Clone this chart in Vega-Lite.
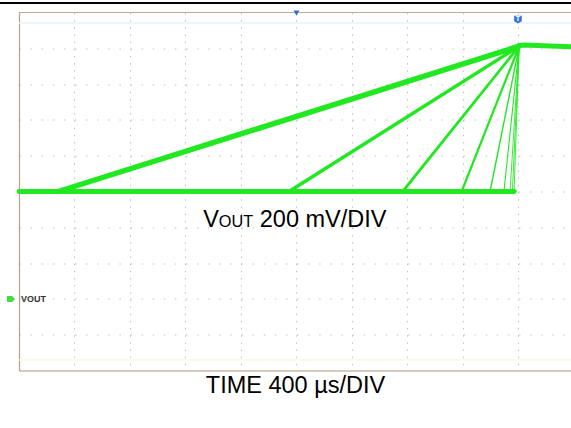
{
  "$schema": "https://vega.github.io/schema/vega-lite/v6.json",
  "width": 552,
  "height": 358,
  "autosize": "none",
  "padding": {"left": 19, "top": 12.5, "right": 0, "bottom": 57.5},
  "background": "white",
  "config": {"view": {"stroke": null}, "font": "Liberation Sans"},
  "datasets": {
    "traces": [
      {"s": "base", "t": 0, "v": 600}, {"s": "base", "t": 3570, "v": 600},
      {"s": "r1", "t": 283, "v": 600}, {"s": "r1", "t": 3605, "v": 1412},
      {"s": "r2", "t": 1946, "v": 600}, {"s": "r2", "t": 3605, "v": 1412},
      {"s": "r3", "t": 2765, "v": 600}, {"s": "r3", "t": 3605, "v": 1412},
      {"s": "r4", "t": 3190, "v": 600}, {"s": "r4", "t": 3605, "v": 1412},
      {"s": "r5", "t": 3395, "v": 600}, {"s": "r5", "t": 3605, "v": 1412},
      {"s": "r6", "t": 3495, "v": 600}, {"s": "r6", "t": 3605, "v": 1412},
      {"s": "r7", "t": 3539, "v": 600}, {"s": "r7", "t": 3605, "v": 1412},
      {"s": "r8", "t": 3556, "v": 600}, {"s": "r8", "t": 3605, "v": 1412},
      {"s": "r9", "t": 3568, "v": 600}, {"s": "r9", "t": 3605, "v": 1412},
      {"s": "top", "t": 3600, "v": 1414}, {"s": "top", "t": 3640, "v": 1418}, {"s": "top", "t": 3978.4, "v": 1408}
    ],
    "one": [{}]
  },
  "layer": [
    {
      "data": {"name": "traces"},
      "mark": {"type": "line", "color": "#22e822", "strokeCap": "round", "strokeJoin": "round"},
      "encoding": {
        "x": {
          "field": "t", "type": "quantitative",
          "scale": {"domain": [0, 3978.4], "nice": false, "zero": false},
          "axis": {
            "values": [400, 800, 1200, 1600, 2000, 2400, 2800, 3200, 3600],
            "labels": false,
            "grid": true,
            "gridColor": "#c2c2c2",
            "gridDash": [1.5, 5.66],
            "ticks": false,
            "domain": true,
            "domainColor": "#b09478",
            "domainWidth": 1.2,
            "title": "TIME 400 µs/DIV",
            "titleFont": "Liberation Sans",
            "titleFontSize": 23.5,
            "titleFontWeight": "normal",
            "titleColor": "#000000",
            "titleBaseline": "alphabetic",
            "titleY": 21.5
          }
        },
        "y": {
          "field": "v", "type": "quantitative",
          "scale": {"domain": [-400, 1600], "nice": false, "zero": false},
          "axis": {
            "values": [-200, 0, 200, 400, 600, 800, 1000, 1200, 1400],
            "labels": false,
            "grid": true,
            "gridColor": "#c2c2c2",
            "gridDash": [1.5, 9.6],
            "ticks": false,
            "domain": true,
            "domainColor": "#b8a08a",
            "domainWidth": 1.2,
            "title": null
          }
        },
        "detail": {"field": "s", "type": "nominal"},
        "strokeWidth": {
          "field": "s", "type": "nominal",
          "scale": {"type": "ordinal", "domain": ["base","r1","r2","r3","r4","r5","r6","r7","r8","r9","top"], "range": [4.8,5.5,3.5,2.8,2.2,1.4,1.1,0.9,0.9,0.9,5]},
          "legend": null
        }
      }
    },
    {
      "data": {"name": "one"},
      "mark": {"type": "rule", "color": "#e6f5f9", "strokeWidth": 1.5},
      "encoding": {
        "x": {"datum": 0},
        "x2": {"datum": 3978.4},
        "y": {"datum": 1541}
      }
    },
    {
      "data": {"name": "one"},
      "mark": {"type": "rule", "color": "#fcf8e6", "strokeWidth": 1.5},
      "encoding": {
        "x": {"datum": 0},
        "x2": {"datum": 3978.4},
        "y": {"datum": -341}
      }
    },
    {
      "data": {"name": "one"},
      "mark": {"type": "rule", "color": "#c4aa92", "strokeWidth": 1.2},
      "encoding": {
        "x": {"datum": 0},
        "x2": {"datum": 3978.4},
        "y": {"datum": 1600}
      }
    },
    {
      "data": {"name": "one"},
      "mark": {"type": "rule", "color": "#000000", "strokeWidth": 2, "clip": false},
      "encoding": {
        "x": {"datum": -137},
        "x2": {"datum": 3978.4},
        "y": {"datum": 1653}
      }
    },
    {
      "data": {"name": "one"},
      "mark": {"type": "point", "shape": "triangle-down", "size": 36, "filled": true, "color": "#2e6fd0", "opacity": 1},
      "encoding": {
        "x": {"datum": 2000},
        "y": {"datum": 1596}
      }
    },
    {
      "data": {"name": "one"},
      "mark": {"type": "point", "shape": "M-1,-1L1,-1L1,0.4L0,1L-1,0.4Z", "size": 60, "filled": true, "color": "#3b78d8", "opacity": 1},
      "encoding": {
        "x": {"datum": 3596},
        "y": {"datum": 1560}
      }
    },
    {
      "data": {"name": "one"},
      "mark": {"type": "text", "text": "T", "color": "white", "fontSize": 7, "fontWeight": "bold", "align": "center", "baseline": "middle", "dy": -0.5},
      "encoding": {
        "x": {"datum": 3596},
        "y": {"datum": 1560}
      }
    },
    {
      "data": {"name": "one"},
      "mark": {"type": "point", "shape": "M-1,-0.75L0.35,-0.75L1,0L0.35,0.75L-1,0.75Z", "size": 64, "filled": true, "color": "#45dd45", "opacity": 1, "clip": false},
      "encoding": {
        "x": {"datum": -58},
        "y": {"datum": 0}
      }
    },
    {
      "data": {"name": "one"},
      "mark": {"type": "text", "text": "VOUT", "color": "#333333", "fontSize": 9, "fontWeight": "bold", "align": "left", "baseline": "middle", "dx": 2},
      "encoding": {
        "x": {"datum": 0},
        "y": {"datum": 0}
      }
    },
    {
      "data": {"name": "one"},
      "mark": {"type": "text", "text": "V", "color": "#000000", "font": "Liberation Sans", "fontSize": 23.5, "align": "left", "baseline": "alphabetic"},
      "encoding": {
        "x": {"datum": 1328},
        "y": {"datum": 400}
      }
    },
    {
      "data": {"name": "one"},
      "mark": {"type": "text", "text": "OUT", "color": "#000000", "font": "Liberation Sans", "fontSize": 16.3, "align": "left", "baseline": "alphabetic", "dx": 15.6},
      "encoding": {
        "x": {"datum": 1328},
        "y": {"datum": 400}
      }
    },
    {
      "data": {"name": "one"},
      "mark": {"type": "text", "text": "200 mV/DIV", "color": "#000000", "font": "Liberation Sans", "fontSize": 23.5, "align": "left", "baseline": "alphabetic", "dx": 56.5},
      "encoding": {
        "x": {"datum": 1328},
        "y": {"datum": 400}
      }
    }
  ]
}
